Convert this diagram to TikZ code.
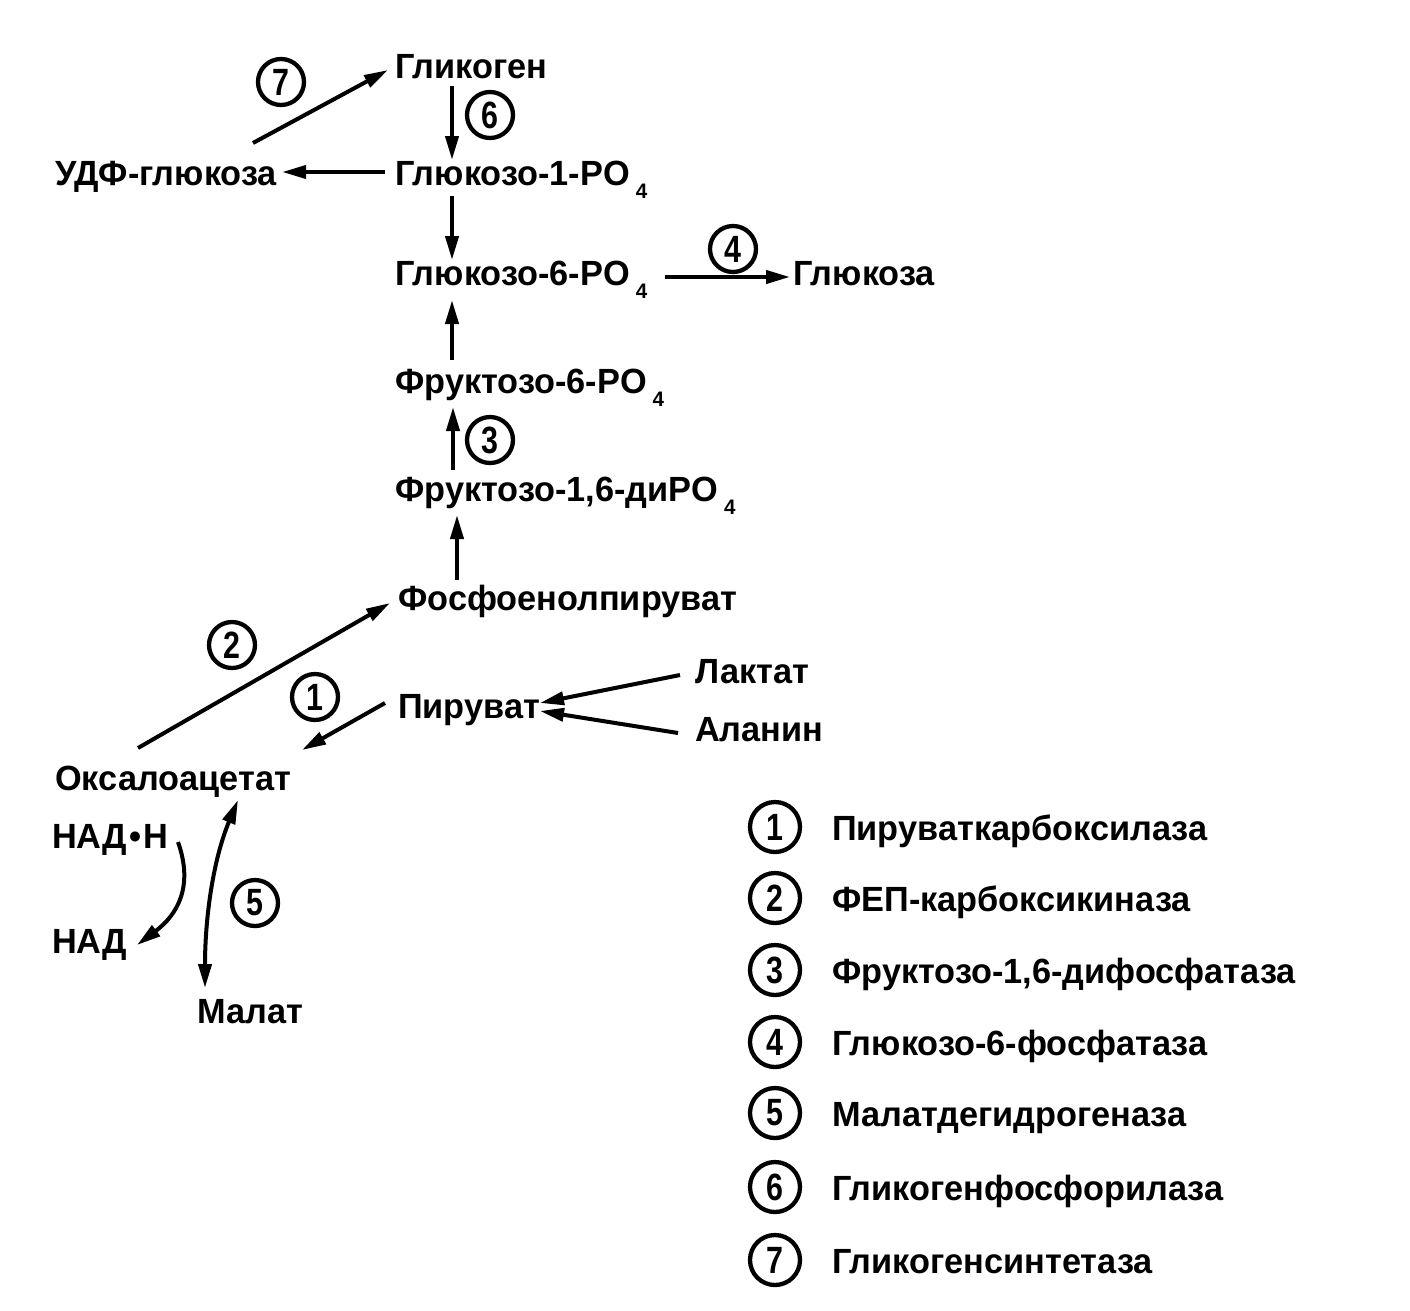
\documentclass[tikz,border=0pt]{standalone}
\usepackage{fontspec}
\setmainfont{Liberation Sans}[FakeStretch=0.98]
\newfontfamily\numf{Liberation Sans}[FakeStretch=0.8]
\usetikzlibrary{arrows.meta}
\newcommand{\POf}{PO\kern6pt\raisebox{-13pt}{\fontsize{21}{21}\selectfont 4}}
\begin{document}
\begin{tikzpicture}[x=1pt,y=-1pt,
  lbl/.style={inner sep=0pt,anchor=base west,font=\bfseries\fontsize{35}{40}\selectfont},
  num/.style={circle,draw,line width=4.3pt,minimum size=46pt,inner sep=0pt,font=\numf\bfseries\fontsize{38}{38}\selectfont},
  arr/.style={line width=4pt,-{Triangle[length=24pt,width=13pt]}},
  darr/.style={line width=4pt,{Triangle[length=24pt,width=13pt]}-{Triangle[length=24pt,width=13pt]}}]
\useasboundingbox (0,0) rectangle (1410,1310);
% metabolites
\node[lbl] (glyk) at (395,78) {Гликоген};
\node[lbl] (udf) at (55,185) {УДФ-глюкоза};
\node[lbl] (g1p) at (395,185) {Глюкозо-1-\POf};
\node[lbl] (g6p) at (395,285) {Глюкозо-6-\POf};
\node[lbl] (glc) at (793,285) {Глюкоза};
\node[lbl] (f6p) at (395,393) {Фруктозо-6-\POf};
\node[lbl] (f16) at (395,501) {Фруктозо-1,6-ди\POf};
\node[lbl] (pep) at (398,610) {Фосфоенолпируват};
\node[lbl] (lac) at (695,683) {Лактат};
\node[lbl] (pyr) at (398,718) {Пируват};
\node[lbl] (ala) at (695,741) {Аланин};
\node[lbl] (oaa) at (55,790) {Оксалоацетат};
\node[lbl] (nadh) at (52,848) {НАД\kern2pt•\kern2ptН};
\node[lbl] (nad) at (52,953) {НАД};
\node[lbl] (mal) at (197,1023) {Малат};
% enzyme circles
\node[num] (c7) at (281,82) {7};
\node[num] (c6) at (490,115) {6};
\node[num] (c4) at (733,249) {4};
\node[num] (c3) at (490,440) {3};
\node[num] (c2) at (232,645) {2};
\node[num] (c1) at (315,697) {1};
\node[num] (c5) at (255,903) {5};
% connectors
\draw[arr] ([xshift=-142pt,yshift=-65pt]glyk.base west) -- ([xshift=-7pt,yshift=8pt]glyk.base west);
\draw[arr] ([xshift=57pt,yshift=-8pt]glyk.base west) -- ([xshift=57pt,yshift=25pt]g1p.base west);
\draw[arr] ([xshift=-10pt,yshift=13pt]g1p.base west) -- ([xshift=5pt,yshift=13pt]udf.base east);
\draw[arr] ([xshift=57pt,yshift=-11pt]g1p.base west) -- ([xshift=57pt,yshift=25pt]g6p.base west);
\draw[arr] ([xshift=270pt,yshift=8pt]g6p.base west) -- ([xshift=-3pt,yshift=8pt]glc.base west);
\draw[arr] ([xshift=57pt,yshift=33pt]f6p.base west) -- ([xshift=57pt,yshift=-15pt]g6p.base west);
\draw[arr] ([xshift=58pt,yshift=31pt]f16.base west) -- ([xshift=58pt,yshift=-14pt]f6p.base west);
\draw[arr] ([xshift=59pt,yshift=30pt]pep.base west) -- ([xshift=62pt,yshift=-14pt]f16.base west);
\draw[arr] ([xshift=83pt,yshift=42pt]oaa.base west) -- ([xshift=-8pt,yshift=7pt]pep.base west);
\draw[arr] ([xshift=-13pt,yshift=15pt]pyr.base west) -- ([xshift=247pt,yshift=40pt]oaa.base west);
\draw[arr] ([xshift=-15pt,yshift=8pt]lac.base west) -- ([xshift=142pt,yshift=15pt]pyr.base west);
\draw[arr] ([xshift=-17pt,yshift=8pt]ala.base west) -- ([xshift=142pt,yshift=7pt]pyr.base west);
\draw[arr] ([xshift=126pt,yshift=6pt]nadh.base west) .. controls +(16,45) and +(40,-30) .. ([xshift=85pt,yshift=8pt]nad.base west);
\draw[darr] ([xshift=183pt,yshift=-10pt]oaa.base west) .. controls +(-25,60) and +(0,-70) .. ([xshift=8pt,yshift=35pt]mal.base west);
% legend
\node[num,minimum size=50pt] (l1) at (775,827) {1};
\node[num,minimum size=50pt] (l2) at (775,898) {2};
\node[num,minimum size=50pt] (l3) at (775,970) {3};
\node[num,minimum size=50pt] (l4) at (775,1042) {4};
\node[num,minimum size=50pt] (l5) at (775,1113) {5};
\node[num,minimum size=50pt] (l6) at (775,1187) {6};
\node[num,minimum size=50pt] (l7) at (775,1260) {7};
\node[lbl] (t1) at (832,840) {Пируваткарбоксилаза};
\node[lbl] (t2) at (832,911) {ФЕП-карбоксикиназа};
\node[lbl] (t3) at (832,983) {Фруктозо-1,6-дифосфатаза};
\node[lbl] (t4) at (832,1055) {Глюкозо-6-фосфатаза};
\node[lbl] (t5) at (832,1126) {Малатдегидрогеназа};
\node[lbl] (t6) at (832,1200) {Гликогенфосфорилаза};
\node[lbl] (t7) at (832,1273) {Гликогенсинтетаза};
\end{tikzpicture}
\end{document}
